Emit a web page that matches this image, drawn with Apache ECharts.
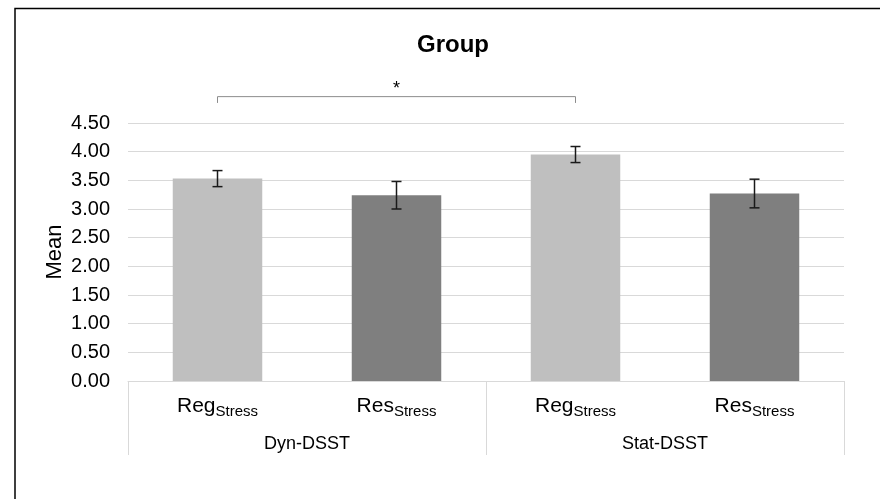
<!DOCTYPE html>
<html>
<head>
<meta charset="utf-8">
<script src="https://cdn.jsdelivr.net/npm/echarts@6/dist/echarts.min.js"></script>
<style>
html,body{margin:0;padding:0;background:#fff;}
#c{width:880px;height:499px;}
</style>
</head>
<body>
<div id="c"></div>
<script>
// ---- data ----
const conditions = ['Reg', 'Res', 'Reg', 'Res'];
const conditionSub = ['Stress', 'Stress', 'Stress', 'Stress'];
const groups = ['Dyn-DSST', 'Stat-DSST'];
const means = [3.53, 3.24, 3.95, 3.27];
const errors = [0.14, 0.24, 0.14, 0.25];
const barColors = ['#bfbfbf', '#7f7f7f', '#bfbfbf', '#7f7f7f'];
const yTicks = [0, 0.5, 1, 1.5, 2, 2.5, 3, 3.5, 4, 4.5];
const sigFrom = [0];
const sigTo = [2];
const sigLabel = ['*'];

const FONT = "'Liberation Sans', Arial, sans-serif";
const chart = echarts.init(document.getElementById('c'));

const catLabels = conditions.map((c, i) => c + '|' + conditionSub[i]);

chart.setOption({
  animation: false,
  backgroundColor: '#ffffff',
  title: {
    text: 'Group',
    left: 412,
    top: 28,
    textStyle: { fontFamily: FONT, fontSize: 24, fontWeight: 'bold', color: '#000' }
  },
  graphic: [{
    type: 'rect',
    shape: { x: 15, y: 8.5, width: 1000, height: 1000 },
    style: { fill: 'none', stroke: '#000', lineWidth: 1.5 },
    silent: true
  }],
  grid: { left: 128, right: 36, top: 123, bottom: 118, containLabel: false },
  xAxis: [{
    type: 'category',
    data: catLabels,
    gridIndex: 0,
    position: 'bottom',
    axisLine: { show: true, lineStyle: { color: '#d9d9d9', width: 1 } },
    axisTick: { show: false },
    axisLabel: {
      margin: 12,
      formatter: function (v) {
        const p = v.split('|');
        return '{m|' + p[0] + '}{s|' + p[1] + '}';
      },
      rich: {
        m: { fontFamily: FONT, fontSize: 21, color: '#000', lineHeight: 26 },
        s: { fontFamily: FONT, fontSize: 15, color: '#000', lineHeight: 26, padding: [12, 0, 0, 0] }
      }
    }
  }, {
    type: 'category',
    data: groups,
    gridIndex: 0,
    position: 'bottom',
    axisLine: { show: false },
    axisTick: { show: true, length: 74, lineStyle: { color: '#d9d9d9', width: 1 } },
    axisLabel: { margin: 54, fontFamily: FONT, fontSize: 18, color: '#000' }
  }],
  yAxis: {
    type: 'value',
    min: 0,
    max: 4.5,
    interval: 0.5,
    name: 'Mean',
    nameLocation: 'middle',
    nameRotate: 90,
    nameGap: 62,
    nameMoveOverlap: false,
    nameTextStyle: { fontFamily: FONT, fontSize: 22, color: '#000' },
    axisLine: { show: false },
    axisTick: { show: false },
    splitLine: { show: true, lineStyle: { color: '#d9d9d9', width: 1 } },
    axisLabel: {
      margin: 18,
      fontFamily: FONT,
      fontSize: 20,
      color: '#000',
      formatter: v => v.toFixed(2)
    }
  },
  series: [{
    type: 'bar',
    xAxisIndex: 0,
    barWidth: '50%',
    z: 2,
    data: means.map((v, i) => ({ value: v, itemStyle: { color: barColors[i] } })),
    silent: true
  }, {
    type: 'custom',
    xAxisIndex: 0,
    clip: false,
    silent: true,
    z: 5,
    encode: { x: 0, y: 1 },
    data: means.map((v, i) => [i, v, errors[i]]),
    renderItem: function (params, api) {
      const x = api.value(0), v = api.value(1), e = api.value(2);
      const top = api.coord([x, v + e]);
      const bot = api.coord([x, v - e]);
      const hw = 5;
      const st = { stroke: '#1a1a1a', lineWidth: 1.5 };
      return {
        type: 'group',
        children: [
          { type: 'line', shape: { x1: top[0], y1: top[1], x2: bot[0], y2: bot[1] }, style: st },
          { type: 'line', shape: { x1: top[0] - hw, y1: top[1], x2: top[0] + hw, y2: top[1] }, style: st },
          { type: 'line', shape: { x1: bot[0] - hw, y1: bot[1], x2: bot[0] + hw, y2: bot[1] }, style: st }
        ]
      };
    }
  }, {
    type: 'custom',
    xAxisIndex: 0,
    clip: false,
    silent: true,
    z: 5,
    encode: { x: 0 },
    data: sigFrom.map((f, i) => [f, sigTo[i], i]),
    renderItem: function (params, api) {
      const a = api.coord([api.value(0), 4.96]);
      const b = api.coord([api.value(1), 4.96]);
      const hook = api.coord([api.value(0), 4.85]);
      const mid = (a[0] + b[0]) / 2;
      const st = { stroke: '#8c8c8c', lineWidth: 1, fill: 'none' };
      return {
        type: 'group',
        children: [
          { type: 'polyline', shape: { points: [[a[0], hook[1]], [a[0], a[1]], [b[0], b[1]], [b[0], hook[1]]] }, style: st },
          { type: 'text', style: { text: sigLabel[api.value(2)], x: mid, y: a[1] + 1, align: 'center', verticalAlign: 'bottom', font: '18px ' + FONT, fill: '#000' } }
        ]
      };
    }
  }]
});
</script>
</body>
</html>
